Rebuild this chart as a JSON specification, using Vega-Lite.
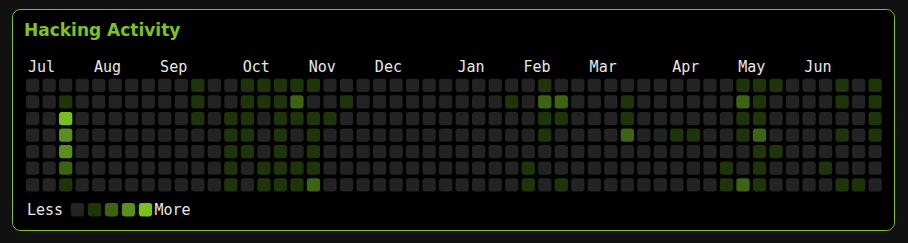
{
  "$schema": "https://vega.github.io/schema/vega-lite/v6.json",
  "width": 882,
  "height": 221,
  "autosize": {"type": "none"},
  "padding": {"left": 12, "top": 9, "right": 14, "bottom": 13},
  "background": "#111111",
  "config": {"view": {"fill": "#000000", "stroke": "#7cc324", "strokeWidth": 1, "cornerRadius": 8}},
  "title": {"text": "Hacking Activity", "anchor": "start", "frame": "group", "font": "DejaVu Sans", "fontSize": 17, "fontWeight": "bold", "color": "#7cc324", "baseline": "alphabetic", "offset": -44, "dx": 12},
  "data": {"values": [
    {"w":0,"d":0,"v":0},{"w":0,"d":1,"v":0},{"w":0,"d":2,"v":0},{"w":0,"d":3,"v":0},{"w":0,"d":4,"v":0},{"w":0,"d":5,"v":0},{"w":0,"d":6,"v":0},
    {"w":1,"d":0,"v":0},{"w":1,"d":1,"v":0},{"w":1,"d":2,"v":0},{"w":1,"d":3,"v":0},{"w":1,"d":4,"v":0},{"w":1,"d":5,"v":0},{"w":1,"d":6,"v":0},
    {"w":2,"d":0,"v":0},{"w":2,"d":1,"v":1},{"w":2,"d":2,"v":4},{"w":2,"d":3,"v":3},{"w":2,"d":4,"v":3},{"w":2,"d":5,"v":2},{"w":2,"d":6,"v":1},
    {"w":3,"d":0,"v":0},{"w":3,"d":1,"v":0},{"w":3,"d":2,"v":0},{"w":3,"d":3,"v":0},{"w":3,"d":4,"v":0},{"w":3,"d":5,"v":0},{"w":3,"d":6,"v":0},
    {"w":4,"d":0,"v":0},{"w":4,"d":1,"v":0},{"w":4,"d":2,"v":0},{"w":4,"d":3,"v":0},{"w":4,"d":4,"v":0},{"w":4,"d":5,"v":0},{"w":4,"d":6,"v":0},
    {"w":5,"d":0,"v":0},{"w":5,"d":1,"v":0},{"w":5,"d":2,"v":0},{"w":5,"d":3,"v":0},{"w":5,"d":4,"v":0},{"w":5,"d":5,"v":0},{"w":5,"d":6,"v":0},
    {"w":6,"d":0,"v":0},{"w":6,"d":1,"v":0},{"w":6,"d":2,"v":0},{"w":6,"d":3,"v":0},{"w":6,"d":4,"v":0},{"w":6,"d":5,"v":0},{"w":6,"d":6,"v":0},
    {"w":7,"d":0,"v":0},{"w":7,"d":1,"v":0},{"w":7,"d":2,"v":0},{"w":7,"d":3,"v":0},{"w":7,"d":4,"v":0},{"w":7,"d":5,"v":0},{"w":7,"d":6,"v":0},
    {"w":8,"d":0,"v":0},{"w":8,"d":1,"v":0},{"w":8,"d":2,"v":0},{"w":8,"d":3,"v":0},{"w":8,"d":4,"v":0},{"w":8,"d":5,"v":0},{"w":8,"d":6,"v":0},
    {"w":9,"d":0,"v":0},{"w":9,"d":1,"v":0},{"w":9,"d":2,"v":0},{"w":9,"d":3,"v":0},{"w":9,"d":4,"v":0},{"w":9,"d":5,"v":0},{"w":9,"d":6,"v":0},
    {"w":10,"d":0,"v":1},{"w":10,"d":1,"v":1},{"w":10,"d":2,"v":1},{"w":10,"d":3,"v":0},{"w":10,"d":4,"v":0},{"w":10,"d":5,"v":0},{"w":10,"d":6,"v":0},
    {"w":11,"d":0,"v":0},{"w":11,"d":1,"v":0},{"w":11,"d":2,"v":0},{"w":11,"d":3,"v":0},{"w":11,"d":4,"v":0},{"w":11,"d":5,"v":0},{"w":11,"d":6,"v":0},
    {"w":12,"d":0,"v":0},{"w":12,"d":1,"v":0},{"w":12,"d":2,"v":1},{"w":12,"d":3,"v":1},{"w":12,"d":4,"v":1},{"w":12,"d":5,"v":1},{"w":12,"d":6,"v":1},
    {"w":13,"d":0,"v":1},{"w":13,"d":1,"v":1},{"w":13,"d":2,"v":1},{"w":13,"d":3,"v":1},{"w":13,"d":4,"v":1},{"w":13,"d":5,"v":0},{"w":13,"d":6,"v":0},
    {"w":14,"d":0,"v":1},{"w":14,"d":1,"v":1},{"w":14,"d":2,"v":0},{"w":14,"d":3,"v":0},{"w":14,"d":4,"v":0},{"w":14,"d":5,"v":1},{"w":14,"d":6,"v":1},
    {"w":15,"d":0,"v":1},{"w":15,"d":1,"v":1},{"w":15,"d":2,"v":1},{"w":15,"d":3,"v":1},{"w":15,"d":4,"v":1},{"w":15,"d":5,"v":1},{"w":15,"d":6,"v":1},
    {"w":16,"d":0,"v":1},{"w":16,"d":1,"v":2},{"w":16,"d":2,"v":1},{"w":16,"d":3,"v":0},{"w":16,"d":4,"v":0},{"w":16,"d":5,"v":1},{"w":16,"d":6,"v":1},
    {"w":17,"d":0,"v":1},{"w":17,"d":1,"v":0},{"w":17,"d":2,"v":1},{"w":17,"d":3,"v":1},{"w":17,"d":4,"v":1},{"w":17,"d":5,"v":1},{"w":17,"d":6,"v":2},
    {"w":18,"d":0,"v":0},{"w":18,"d":1,"v":0},{"w":18,"d":2,"v":1},{"w":18,"d":3,"v":0},{"w":18,"d":4,"v":0},{"w":18,"d":5,"v":0},{"w":18,"d":6,"v":0},
    {"w":19,"d":0,"v":0},{"w":19,"d":1,"v":1},{"w":19,"d":2,"v":0},{"w":19,"d":3,"v":0},{"w":19,"d":4,"v":0},{"w":19,"d":5,"v":0},{"w":19,"d":6,"v":0},
    {"w":20,"d":0,"v":0},{"w":20,"d":1,"v":0},{"w":20,"d":2,"v":0},{"w":20,"d":3,"v":0},{"w":20,"d":4,"v":0},{"w":20,"d":5,"v":0},{"w":20,"d":6,"v":0},
    {"w":21,"d":0,"v":0},{"w":21,"d":1,"v":0},{"w":21,"d":2,"v":0},{"w":21,"d":3,"v":0},{"w":21,"d":4,"v":0},{"w":21,"d":5,"v":0},{"w":21,"d":6,"v":0},
    {"w":22,"d":0,"v":0},{"w":22,"d":1,"v":0},{"w":22,"d":2,"v":0},{"w":22,"d":3,"v":0},{"w":22,"d":4,"v":0},{"w":22,"d":5,"v":0},{"w":22,"d":6,"v":0},
    {"w":23,"d":0,"v":0},{"w":23,"d":1,"v":0},{"w":23,"d":2,"v":0},{"w":23,"d":3,"v":0},{"w":23,"d":4,"v":0},{"w":23,"d":5,"v":0},{"w":23,"d":6,"v":0},
    {"w":24,"d":0,"v":0},{"w":24,"d":1,"v":0},{"w":24,"d":2,"v":0},{"w":24,"d":3,"v":0},{"w":24,"d":4,"v":0},{"w":24,"d":5,"v":0},{"w":24,"d":6,"v":0},
    {"w":25,"d":0,"v":0},{"w":25,"d":1,"v":0},{"w":25,"d":2,"v":0},{"w":25,"d":3,"v":0},{"w":25,"d":4,"v":0},{"w":25,"d":5,"v":0},{"w":25,"d":6,"v":0},
    {"w":26,"d":0,"v":0},{"w":26,"d":1,"v":0},{"w":26,"d":2,"v":0},{"w":26,"d":3,"v":0},{"w":26,"d":4,"v":0},{"w":26,"d":5,"v":0},{"w":26,"d":6,"v":0},
    {"w":27,"d":0,"v":0},{"w":27,"d":1,"v":0},{"w":27,"d":2,"v":0},{"w":27,"d":3,"v":0},{"w":27,"d":4,"v":0},{"w":27,"d":5,"v":0},{"w":27,"d":6,"v":0},
    {"w":28,"d":0,"v":0},{"w":28,"d":1,"v":0},{"w":28,"d":2,"v":0},{"w":28,"d":3,"v":0},{"w":28,"d":4,"v":0},{"w":28,"d":5,"v":0},{"w":28,"d":6,"v":0},
    {"w":29,"d":0,"v":0},{"w":29,"d":1,"v":1},{"w":29,"d":2,"v":0},{"w":29,"d":3,"v":0},{"w":29,"d":4,"v":0},{"w":29,"d":5,"v":0},{"w":29,"d":6,"v":0},
    {"w":30,"d":0,"v":0},{"w":30,"d":1,"v":0},{"w":30,"d":2,"v":0},{"w":30,"d":3,"v":0},{"w":30,"d":4,"v":0},{"w":30,"d":5,"v":1},{"w":30,"d":6,"v":1},
    {"w":31,"d":0,"v":1},{"w":31,"d":1,"v":2},{"w":31,"d":2,"v":1},{"w":31,"d":3,"v":1},{"w":31,"d":4,"v":0},{"w":31,"d":5,"v":0},{"w":31,"d":6,"v":0},
    {"w":32,"d":0,"v":0},{"w":32,"d":1,"v":2},{"w":32,"d":2,"v":1},{"w":32,"d":3,"v":0},{"w":32,"d":4,"v":0},{"w":32,"d":5,"v":0},{"w":32,"d":6,"v":1},
    {"w":33,"d":0,"v":0},{"w":33,"d":1,"v":0},{"w":33,"d":2,"v":0},{"w":33,"d":3,"v":0},{"w":33,"d":4,"v":0},{"w":33,"d":5,"v":0},{"w":33,"d":6,"v":0},
    {"w":34,"d":0,"v":0},{"w":34,"d":1,"v":0},{"w":34,"d":2,"v":0},{"w":34,"d":3,"v":0},{"w":34,"d":4,"v":0},{"w":34,"d":5,"v":0},{"w":34,"d":6,"v":0},
    {"w":35,"d":0,"v":0},{"w":35,"d":1,"v":0},{"w":35,"d":2,"v":0},{"w":35,"d":3,"v":0},{"w":35,"d":4,"v":0},{"w":35,"d":5,"v":0},{"w":35,"d":6,"v":0},
    {"w":36,"d":0,"v":0},{"w":36,"d":1,"v":1},{"w":36,"d":2,"v":1},{"w":36,"d":3,"v":2},{"w":36,"d":4,"v":0},{"w":36,"d":5,"v":0},{"w":36,"d":6,"v":0},
    {"w":37,"d":0,"v":0},{"w":37,"d":1,"v":0},{"w":37,"d":2,"v":0},{"w":37,"d":3,"v":0},{"w":37,"d":4,"v":0},{"w":37,"d":5,"v":0},{"w":37,"d":6,"v":0},
    {"w":38,"d":0,"v":0},{"w":38,"d":1,"v":0},{"w":38,"d":2,"v":0},{"w":38,"d":3,"v":0},{"w":38,"d":4,"v":0},{"w":38,"d":5,"v":0},{"w":38,"d":6,"v":0},
    {"w":39,"d":0,"v":0},{"w":39,"d":1,"v":0},{"w":39,"d":2,"v":0},{"w":39,"d":3,"v":1},{"w":39,"d":4,"v":0},{"w":39,"d":5,"v":0},{"w":39,"d":6,"v":0},
    {"w":40,"d":0,"v":0},{"w":40,"d":1,"v":0},{"w":40,"d":2,"v":0},{"w":40,"d":3,"v":1},{"w":40,"d":4,"v":0},{"w":40,"d":5,"v":0},{"w":40,"d":6,"v":0},
    {"w":41,"d":0,"v":0},{"w":41,"d":1,"v":0},{"w":41,"d":2,"v":0},{"w":41,"d":3,"v":0},{"w":41,"d":4,"v":0},{"w":41,"d":5,"v":0},{"w":41,"d":6,"v":0},
    {"w":42,"d":0,"v":0},{"w":42,"d":1,"v":0},{"w":42,"d":2,"v":0},{"w":42,"d":3,"v":0},{"w":42,"d":4,"v":0},{"w":42,"d":5,"v":1},{"w":42,"d":6,"v":1},
    {"w":43,"d":0,"v":1},{"w":43,"d":1,"v":2},{"w":43,"d":2,"v":1},{"w":43,"d":3,"v":1},{"w":43,"d":4,"v":0},{"w":43,"d":5,"v":0},{"w":43,"d":6,"v":2},
    {"w":44,"d":0,"v":1},{"w":44,"d":1,"v":1},{"w":44,"d":2,"v":1},{"w":44,"d":3,"v":2},{"w":44,"d":4,"v":1},{"w":44,"d":5,"v":1},{"w":44,"d":6,"v":1},
    {"w":45,"d":0,"v":1},{"w":45,"d":1,"v":0},{"w":45,"d":2,"v":0},{"w":45,"d":3,"v":0},{"w":45,"d":4,"v":1},{"w":45,"d":5,"v":0},{"w":45,"d":6,"v":0},
    {"w":46,"d":0,"v":0},{"w":46,"d":1,"v":0},{"w":46,"d":2,"v":0},{"w":46,"d":3,"v":0},{"w":46,"d":4,"v":0},{"w":46,"d":5,"v":0},{"w":46,"d":6,"v":0},
    {"w":47,"d":0,"v":0},{"w":47,"d":1,"v":0},{"w":47,"d":2,"v":0},{"w":47,"d":3,"v":0},{"w":47,"d":4,"v":0},{"w":47,"d":5,"v":0},{"w":47,"d":6,"v":0},
    {"w":48,"d":0,"v":0},{"w":48,"d":1,"v":0},{"w":48,"d":2,"v":0},{"w":48,"d":3,"v":0},{"w":48,"d":4,"v":0},{"w":48,"d":5,"v":1},{"w":48,"d":6,"v":0},
    {"w":49,"d":0,"v":1},{"w":49,"d":1,"v":1},{"w":49,"d":2,"v":0},{"w":49,"d":3,"v":1},{"w":49,"d":4,"v":0},{"w":49,"d":5,"v":0},{"w":49,"d":6,"v":1},
    {"w":50,"d":0,"v":0},{"w":50,"d":1,"v":0},{"w":50,"d":2,"v":0},{"w":50,"d":3,"v":0},{"w":50,"d":4,"v":0},{"w":50,"d":5,"v":0},{"w":50,"d":6,"v":1},
    {"w":51,"d":0,"v":1},{"w":51,"d":1,"v":1},{"w":51,"d":2,"v":1},{"w":51,"d":3,"v":1},{"w":51,"d":4,"v":0},{"w":51,"d":5,"v":0},{"w":51,"d":6,"v":0}
  ]},
  "mark": {"type": "rect", "cornerRadius": 2.5},
  "encoding": {
    "x": {
      "field": "w", "type": "ordinal",
      "scale": {"range": [14, 869.8], "paddingInner": 0.195, "paddingOuter": 0},
      "axis": {
        "orient": "top", "title": null,
        "values": [0, 4, 8, 13, 17, 21, 26, 30, 34, 39, 43, 47],
        "labelExpr": "({'0':'Jul','4':'Aug','8':'Sep','13':'Oct','17':'Nov','21':'Dec','26':'Jan','30':'Feb','34':'Mar','39':'Apr','43':'May','47':'Jun'})[datum.label]",
        "bandPosition": 0, "labelAlign": "left", "labelBaseline": "alphabetic", "labelAngle": 0,
        "labelPadding": 0, "tickSize": 0, "ticks": false, "domain": false, "grid": false,
        "offset": -62, "labelOffset": -4.7, "labelOverlap": false, "labelBound": false, "labelFlush": false,
        "labelFont": "DejaVu Sans Mono", "labelFontSize": 15, "labelColor": "#e8e8e8"
      }
    },
    "y": {
      "field": "d", "type": "ordinal",
      "scale": {"range": [69.8, 182.4], "paddingInner": 0.2, "paddingOuter": 0},
      "axis": null
    },
    "color": {
      "field": "v", "type": "ordinal",
      "scale": {"domain": [0, 1, 2, 3, 4], "range": ["#232323", "#1e3509", "#3d6412", "#5a8e1e", "#78c020"]},
      "legend": {
        "orient": "none", "legendX": 15, "legendY": 193, "direction": "horizontal",
        "title": "Less", "titleOrient": "left", "titleFont": "DejaVu Sans Mono", "titleFontSize": 15,
        "titleFontWeight": "normal", "titleColor": "#e8e8e8", "titlePadding": 6,
        "titleBaseline": "middle", "titleAnchor": "middle",
        "symbolType": "M-0.62,-1H0.62A0.38,0.38 0 0 1 1,-0.62V0.62A0.38,0.38 0 0 1 0.62,1H-0.62A0.38,0.38 0 0 1 -1,0.62V-0.62A0.38,0.38 0 0 1 -0.62,-1Z",
        "symbolSize": 177, "symbolStrokeWidth": 0, "symbolOpacity": 1,
        "labelExpr": "datum.value == 4 ? 'More' : ''",
        "labelFont": "DejaVu Sans Mono", "labelFontSize": 15, "labelColor": "#e8e8e8",
        "labelOffset": 1.5, "columnPadding": 0
      }
    }
  }
}
